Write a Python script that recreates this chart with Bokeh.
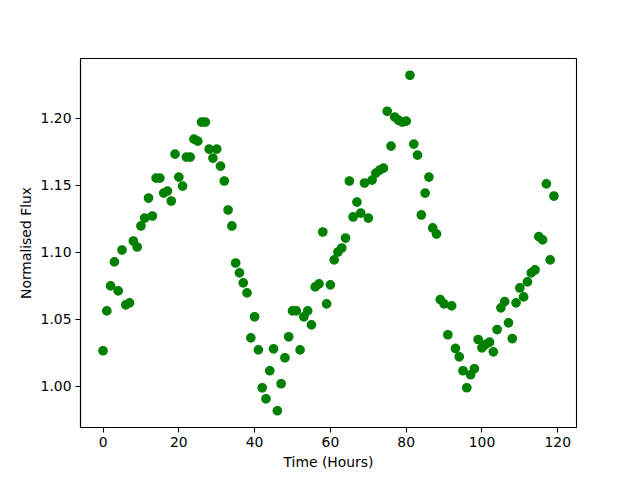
from bokeh.plotting import figure
from bokeh.models import FixedTicker, NumeralTickFormatter, Range1d
from bokeh.embed import file_html
from bokeh.resources import INLINE

hours = list(range(120))
flux = [
    1.0266, 1.0563, 1.0749, 1.0928, 1.0712, 1.1017, 1.0608, 1.0623, 1.1084, 1.1039,
    1.1196, 1.1255, 1.1404, 1.1270, 1.1553, 1.1553, 1.1441, 1.1456, 1.1382, 1.1731,
    1.1560, 1.1493, 1.1709, 1.1709, 1.1843, 1.1828, 1.1970, 1.1970, 1.1769, 1.1702,
    1.1769, 1.1642, 1.1531, 1.1315, 1.1196, 1.0920, 1.0846, 1.0772, 1.0697, 1.0362,
    1.0519, 1.0273, 0.9990, 0.9908, 1.0117, 1.0280, 0.9819, 1.0020, 1.0214, 1.0370,
    1.0563, 1.0563, 1.0273, 1.0519, 1.0563, 1.0459, 1.0742, 1.0764, 1.1151, 1.0615,
    1.0757, 1.0943, 1.1002, 1.1032, 1.1106, 1.1531, 1.1263, 1.1374, 1.1292, 1.1516,
    1.1255, 1.1538, 1.1590, 1.1612, 1.1627, 1.2051, 1.1791, 1.2007, 1.1984, 1.1970,
    1.1977, 1.2319, 1.1806, 1.1724, 1.1278, 1.1441, 1.1560, 1.1181, 1.1136, 1.0647,
    1.0615, 1.0385, 1.0600, 1.0283, 1.0221, 1.0117, 0.9990, 1.0087, 1.0132, 1.0350,
    1.0288, 1.0313, 1.0330, 1.0258, 1.0424, 1.0586, 1.0632, 1.0474, 1.0357, 1.0623,
    1.0734, 1.0667, 1.0779, 1.0846, 1.0868, 1.1116, 1.1092, 1.1510, 1.0943, 1.1419,
]
x_ticks = [0, 20, 40, 60, 80, 100, 120]
y_ticks = [1.00, 1.05, 1.10, 1.15, 1.20]
x_label = "Time (Hours)"
y_label = "Normalised Flux"

xmin, xmax = min(hours), max(hours)
ymin, ymax = min(flux), max(flux)
xm = 0.05 * (xmax - xmin)
ym = 0.05 * (ymax - ymin)

p = figure(width=632, height=472, output_backend="svg", toolbar_location=None,
           x_range=Range1d(xmin - xm, xmax + xm), y_range=Range1d(ymin - ym, ymax + ym),
           min_border_left=80, min_border_right=56, min_border_top=58, min_border_bottom=45)

p.scatter(hours, flux, size=8.3, fill_color="#008000", line_color="#008000", line_width=1.4)

p.grid.visible = False
p.outline_line_color = "black"
p.outline_line_width = 1.1
p.background_fill_color = "white"
p.border_fill_color = "white"

for ax in (p.xaxis[0], p.yaxis[0]):
    ax.axis_line_color = "black"
    ax.axis_line_width = 1.1
    ax.major_tick_line_color = "black"
    ax.major_tick_line_width = 1.1
    ax.major_tick_out = 5
    ax.major_tick_in = 0
    ax.minor_tick_line_color = None
    ax.major_label_text_font = "DejaVu Sans"
    ax.major_label_text_font_size = "13.9px"
    ax.major_label_text_color = "black"
    ax.major_label_standoff = 4
    ax.axis_label_text_font = "DejaVu Sans"
    ax.axis_label_text_font_size = "13.9px"
    ax.axis_label_text_font_style = "normal"
    ax.axis_label_text_color = "black"
    ax.axis_label_standoff = 4

p.xaxis.ticker = FixedTicker(ticks=x_ticks)
p.yaxis.ticker = FixedTicker(ticks=y_ticks)
p.yaxis.formatter = NumeralTickFormatter(format="0.00")
p.xaxis.axis_label = x_label
p.yaxis.axis_label = y_label

open("out.html", "w").write(file_html(p, INLINE))
